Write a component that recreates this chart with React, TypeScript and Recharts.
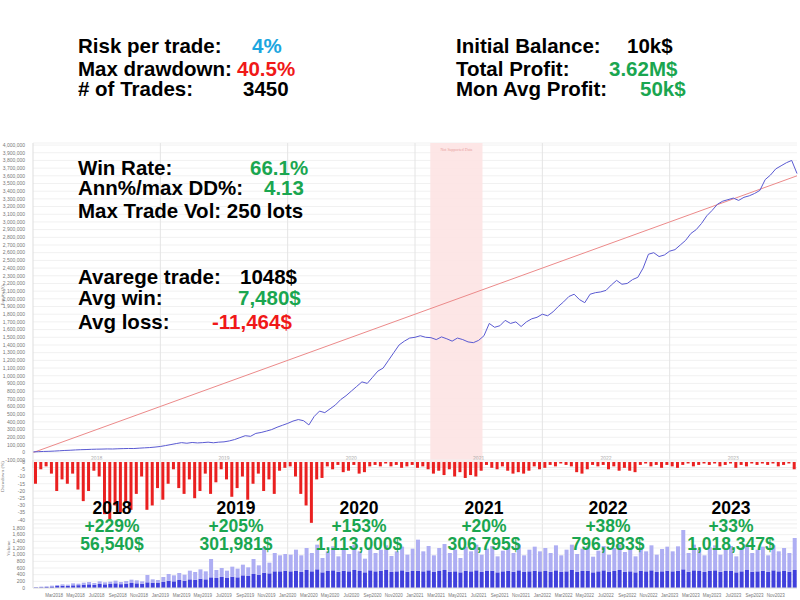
import {
  LineChart,
  Line,
  BarChart,
  Bar,
  XAxis,
  YAxis,
  CartesianGrid,
  ReferenceArea,
  ReferenceLine,
} from "recharts";

// time axis: semi-monthly steps from Jan 2018 to Dec 2023
const START_YEAR = 2018;
const YEAR_STARTS = [2019, 2020, 2021, 2022, 2023];
const YEAR_LABELS = ["2018", "2019", "2020", "2021", "2022", "2023"];

// equity in k$, every half month (145 points incl. the end)
const EQUITY_K = [
  10, 12, 15, 17, 20, 24, 28, 31, 35, 38, 40, 43,
  45, 46, 48, 47, 50, 52, 54, 53, 58, 62, 66, 72,
  80, 92, 105, 118, 130, 122, 132, 126, 130, 136, 128, 136,
  140, 152, 170, 195, 220, 212, 250, 262, 280, 300, 330, 355,
  380, 410, 430, 415, 360, 470, 540, 520, 570, 620, 690, 740,
  800, 860, 920, 900, 980, 1060, 1100, 1200, 1300, 1400, 1450, 1490,
  1500, 1520, 1500, 1495, 1470, 1505, 1480, 1450, 1490, 1470, 1440, 1430,
  1460, 1520, 1680, 1630, 1650, 1720, 1680, 1700, 1640, 1700, 1740, 1760,
  1800, 1780, 1830, 1900, 1960, 2030, 2060, 1990, 1950, 2060, 2080, 2090,
  2110, 2180, 2240, 2190, 2200, 2250, 2280, 2400, 2580, 2600, 2550, 2570,
  2620, 2640, 2700, 2760, 2850, 2900, 2980, 3080, 3150, 3230, 3270, 3290,
  3310, 3280, 3320, 3340, 3370, 3410, 3550, 3610, 3690, 3730, 3770, 3800,
  3630,
];

// linear trend of the equity
const TREND_START = 0;
const TREND_END = 3600000;

// drawdown %, every half month
const DRAWDOWN_PCT = [
  -15, -5, -3, -8, -20, -12, -15, -8, -19, -27, -20, -6,
  -10, -36, -40, -30, -35, -28, -33, -22, -10, -33, -30, -18,
  -26, -15, -5, -18, -22, -12, -25, -20, -8, -22, -14, -5,
  -12, -24, -18, -10, -26, -15, -8, -20, -12, -22, -6, -4,
  -3, -10, -22, -30, -42, -12, -11, -3, -5, -2, -7, -6,
  -2, -8, -7, -3, -2, -3, -1, -3, -2, -4, -3, -2,
  -4, -3, -5, -8, -6, -9, -5, -10, -7, -11, -9, -10,
  -6, -2, -4, -5, -3, -6, -8, -7, -8, -6, -3, -5,
  -4, -2, -3, -1, -2, -3, -7, -8, -5, -2, -3, -2,
  -5, -3, -6, -4, -6, -7, -2, -1, -3, -2, -4, -2,
  -3, -4, -2, -1, -3, -2, -1, -2, -1, -3, -2, -1,
  -4, -2, -3, -1, -2, -1, -2, -1, -3, -2, -1, -5,
];

// traded volume (lots), peak and typical level per half month
const VOLUME_PEAK = [
  30, 40, 50, 70, 90, 110, 100, 140, 130, 160, 180, 150,
  200, 170, 190, 220, 180, 210, 250, 230, 200, 390, 260, 240,
  330, 420, 380, 450, 400, 520, 480, 560, 500, 870, 540, 600,
  520, 640, 580, 700, 620, 870, 680, 1230, 760, 1050, 980, 1020,
  1000, 1150, 980, 1200, 1050, 1300, 900, 1100, 1250, 950, 1180, 1020,
  1300, 1100, 880, 1220, 1050, 1150, 1280, 960, 1100, 1240, 1000, 1180,
  1450, 1100, 1260, 980, 1200, 1320, 1050, 1150, 900, 1240, 1100, 1300,
  1000, 1180, 1260, 950, 1120, 1220, 1050, 1300, 980, 1150, 1240, 1100,
  1200, 1050, 1280, 980, 1150, 1300, 1020, 1180, 1250, 940, 1120, 1260,
  1000, 1200, 1300, 1080, 1150, 950, 1230, 1100, 1280, 1000, 1170, 1240,
  1100, 1250, 1740, 1050, 1300, 1150, 980, 1220, 1280, 1000, 1180, 1260,
  950, 1200, 1300, 1050, 1150, 1240, 980, 1280, 1100, 1200, 1050, 1500,
];
const VOLUME_BASE = [
  20, 25, 30, 45, 60, 70, 65, 80, 85, 100, 110, 95,
  120, 110, 120, 140, 115, 130, 150, 140, 130, 170, 160, 150,
  180, 220, 200, 240, 220, 260, 250, 280, 260, 320, 300, 330,
  300, 340, 320, 380, 360, 420, 400, 460, 440, 500, 500, 520,
  500, 520, 480, 540, 500, 560, 470, 510, 530, 490, 520, 500,
  540, 510, 470, 530, 500, 520, 540, 480, 500, 530, 490, 510,
  520, 500, 530, 480, 510, 540, 490, 500, 470, 520, 500, 530,
  480, 510, 520, 470, 500, 520, 490, 530, 480, 500, 520, 500,
  510, 490, 530, 480, 500, 540, 490, 510, 520, 470, 500, 530,
  480, 510, 540, 490, 500, 470, 520, 500, 530, 480, 500, 520,
  500, 520, 560, 490, 530, 510, 480, 520, 530, 490, 510, 520,
  470, 500, 540, 490, 500, 520, 480, 530, 500, 510, 490, 540,
];

const VOLUME_TICK_LABELS = [
  "Mar2018", "May2018", "Jul2018", "Sep2018", "Nov2018", "Jan2019",
  "Mar2019", "May2019", "Jul2019", "Sep2019", "Nov2019", "Jan2020",
  "Mar2020", "May2020", "Jul2020", "Sep2020", "Nov2020", "Jan2021",
  "Mar2021", "May2021", "Jul2021", "Sep2021", "Nov2021", "Jan2022",
  "Mar2022", "May2022", "Jul2022", "Sep2022", "Nov2022", "Jan2023",
  "Mar2023", "May2023", "Jul2023", "Sep2023", "Nov2023",
];

const YEAR_RESULTS = [
  { year: "2018", pct: "+229%", profit: "56,540$", x: 112 },
  { year: "2019", pct: "+205%", profit: "301,981$", x: 236 },
  { year: "2020", pct: "+153%", profit: "1,113,000$", x: 359 },
  { year: "2021", pct: "+20%", profit: "306,795$", x: 484 },
  { year: "2022", pct: "+38%", profit: "796,983$", x: 608 },
  { year: "2023", pct: "+33%", profit: "1,018,347$", x: 731 },
];

const equityData = EQUITY_K.map((v, i) => ({ t: START_YEAR + i / 24, equity: v * 1000 }));
const barData = DRAWDOWN_PCT.map((d, i) => ({
  t: START_YEAR + (i + 0.5) / 24,
  dd: d,
  base: VOLUME_BASE[i],
  extra: VOLUME_PEAK[i] - VOLUME_BASE[i],
}));

const equityTicks = Array.from({ length: 42 }, (_, k) => -100000 + k * 100000);
const yearMidTicks = YEAR_LABELS.map((_, k) => START_YEAR + k + 0.5);
const volumeTicks = VOLUME_TICK_LABELS.map((_, k) => START_YEAR + (2 + 2 * k) / 12);

const GREEN = "#1aa650";
const RED = "#f01818";
const BLUE = "#1ba6e0";
const FONT = '"Liberation Sans", Arial, sans-serif';
const small = { fontSize: 5, fill: "#777", fontFamily: FONT };

function Txt({ x, y, color = "#000", children }: any) {
  return (
    <div
      style={{
        position: "absolute",
        left: x,
        top: y - 9,
        color,
        fontSize: 20.5,
        lineHeight: "18px",
        fontWeight: "bold",
        whiteSpace: "nowrap",
        fontFamily: FONT,
        zIndex: 5,
      }}
    >
      {children}
    </div>
  );
}

export default function App() {
  return (
    <div
      style={{
        position: "absolute",
        left: 0,
        top: 0,
        width: 800,
        height: 600,
        background: "#fff",
        overflow: "hidden",
      }}
    >
      {/* header stats */}
      <Txt x={78} y={46}>Risk per trade:</Txt>
      <Txt x={252} y={46} color={BLUE}>4%</Txt>
      <Txt x={78} y={69}>Max drawdown:</Txt>
      <Txt x={237} y={69} color={RED}>40.5%</Txt>
      <Txt x={78} y={89}># of Trades:</Txt>
      <Txt x={243} y={89}>3450</Txt>

      <Txt x={456} y={46}>Initial Balance:</Txt>
      <Txt x={627} y={46}>10k$</Txt>
      <Txt x={456} y={69}>Total Profit:</Txt>
      <Txt x={609} y={69} color={GREEN}>3.62M$</Txt>
      <Txt x={456} y={89}>Mon Avg Profit:</Txt>
      <Txt x={640} y={89} color={GREEN}>50k$</Txt>

      {/* stats over the chart */}
      <Txt x={78} y={168}>Win Rate:</Txt>
      <Txt x={250} y={168} color={GREEN}>66.1%</Txt>
      <Txt x={78} y={188}>Ann%/max DD%:</Txt>
      <Txt x={264} y={188} color={GREEN}>4.13</Txt>
      <Txt x={78} y={211}>Max Trade Vol: 250 lots</Txt>
      <Txt x={78} y={277}>Avarege trade:</Txt>
      <Txt x={240} y={277}>1048$</Txt>
      <Txt x={78} y={298}>Avg win:</Txt>
      <Txt x={238} y={298} color={GREEN}>7,480$</Txt>
      <Txt x={78} y={322}>Avg loss:</Txt>
      <Txt x={212} y={322} color={RED}>-11,464$</Txt>

      {YEAR_RESULTS.map((r) => (
        <div
          key={r.year}
          style={{
            position: "absolute",
            left: r.x - 70,
            top: 499,
            width: 140,
            textAlign: "center",
            fontFamily: FONT,
            fontWeight: "bold",
            fontSize: 17.5,
            lineHeight: "18px",
            zIndex: 5,
          }}
        >
          <div style={{ color: "#000" }}>{r.year}</div>
          <div style={{ color: GREEN }}>{r.pct}</div>
          <div style={{ color: GREEN }}>{r.profit}</div>
        </div>
      ))}

      {/* equity chart */}
      <div style={{ position: "absolute", left: 0, top: 138 }}>
        <LineChart width={800} height={330} data={equityData} margin={{ top: 5, right: 3, left: 0, bottom: 0 }}>
          <CartesianGrid vertical={false} stroke="#f1f1f1" />
          <ReferenceArea
            x1={2021.12}
            x2={2021.53}
            fill="#fde3e3"
            fillOpacity={0.9}
            label={{ value: "Not Supported Data", position: "insideTop", fontSize: 4, fill: "#e9a0a0" }}
          />
          {YEAR_STARTS.map((y) => (
            <ReferenceLine key={y} x={y} stroke="#e4e4e4" />
          ))}
          <XAxis
            dataKey="t"
            type="number"
            domain={[2018, 2024]}
            ticks={yearMidTicks}
            tickFormatter={(v: number) => YEAR_LABELS[Math.floor(v) - START_YEAR]}
            height={8}
            mirror
            tickLine={false}
            axisLine={{ stroke: "#ddd" }}
            tick={{ ...small, fill: "#aaa" }}
          />
          <YAxis
            type="number"
            domain={[-200000, 4026667]}
            allowDataOverflow
            ticks={equityTicks}
            interval={0}
            width={33}
            tickLine={false}
            axisLine={{ stroke: "#ddd" }}
            tick={small}
            tickMargin={2}
            tickFormatter={(v: number) => v.toLocaleString("en-US")}
            label={{ value: "Equity ($)", angle: -90, position: "insideLeft", offset: 2, fontSize: 5, fill: "#777" }}
          />
          <ReferenceLine
            segment={[
              { x: 2018, y: TREND_START },
              { x: 2024, y: TREND_END },
            ]}
            stroke="#ec8a8a"
            strokeWidth={1}
          />
          <Line
            type="linear"
            dataKey="equity"
            stroke="#5a5ad2"
            strokeWidth={1}
            dot={false}
            isAnimationActive={false}
          />
        </LineChart>
      </div>

      {/* drawdown */}
      <div style={{ position: "absolute", left: 0, top: 459 }}>
        <BarChart width={800} height={65} data={barData} margin={{ top: 1, right: 3, left: 0, bottom: 0 }}>
          <CartesianGrid vertical={false} stroke="#f1f1f1" />
          {YEAR_STARTS.map((y) => (
            <ReferenceLine key={y} x={y} stroke="#e4e4e4" />
          ))}
          <XAxis dataKey="t" type="number" domain={[2018, 2024]} hide />
          <YAxis
            type="number"
            domain={[-42.8, 1.4]}
            allowDataOverflow
            ticks={[0, -5, -10, -15, -20, -25, -30, -35, -40]}
            interval={0}
            width={33}
            tickLine={false}
            axisLine={{ stroke: "#ddd" }}
            tick={small}
            tickMargin={2}
            label={{ value: "Drawdown (%)", angle: -90, position: "insideLeft", offset: 2, fontSize: 5, fill: "#777" }}
          />
          <Bar dataKey="dd" fill="#ea2020" barSize={3} isAnimationActive={false} />
        </BarChart>
      </div>

      {/* volume */}
      <div style={{ position: "absolute", left: 0, top: 523 }}>
        <BarChart width={800} height={77} data={barData} margin={{ top: 1, right: 3, left: 0, bottom: 0 }}>
          <CartesianGrid vertical={false} stroke="#f1f1f1" />
          {YEAR_STARTS.map((y) => (
            <ReferenceLine key={y} x={y} stroke="#e4e4e4" />
          ))}
          <XAxis
            dataKey="t"
            type="number"
            domain={[2018, 2024]}
            ticks={volumeTicks}
            interval={0}
            tickFormatter={(_v: number, k: number) => VOLUME_TICK_LABELS[k]}
            height={12}
            tickLine={false}
            axisLine={{ stroke: "#ddd" }}
            tick={{ ...small, fontSize: 4.5 }}
            tickMargin={0}
          />
          <YAxis
            type="number"
            domain={[0, 1920]}
            allowDataOverflow
            ticks={[0, 200, 400, 600, 800, 1000, 1200, 1400, 1600, 1800]}
            interval={0}
            width={33}
            tickLine={false}
            axisLine={{ stroke: "#ddd" }}
            tick={small}
            tickMargin={2}
            tickFormatter={(v: number) => v.toLocaleString("en-US")}
            label={{ value: "Volume", angle: -90, position: "insideLeft", offset: 8, fontSize: 5, fill: "#777" }}
          />
          <Bar dataKey="base" stackId="v" fill="#4040dc" barSize={4} isAnimationActive={false} />
          <Bar dataKey="extra" stackId="v" fill="#aeaef3" barSize={4} isAnimationActive={false} />
        </BarChart>
      </div>
    </div>
  );
}
